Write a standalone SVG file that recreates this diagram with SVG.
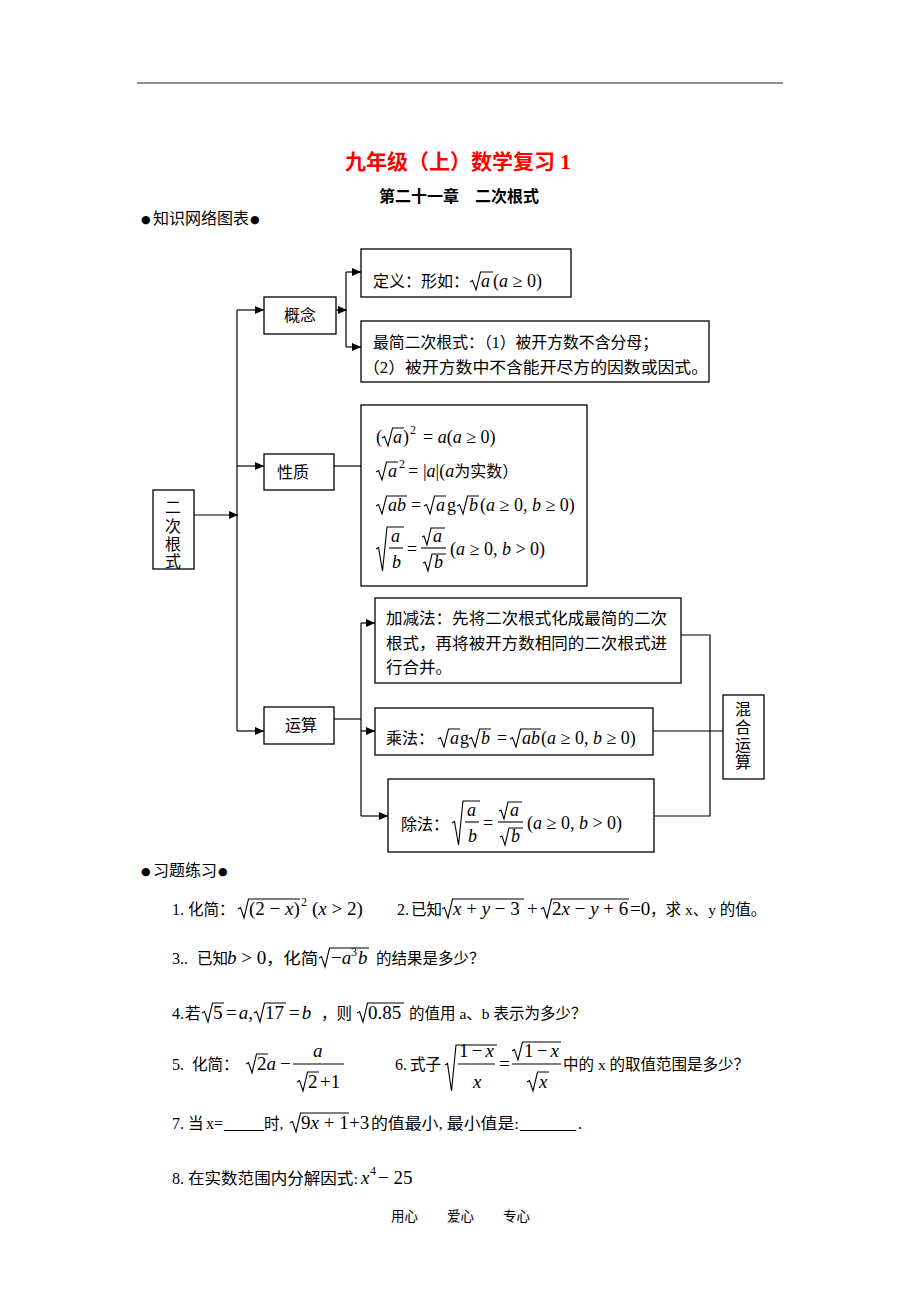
<svg xmlns="http://www.w3.org/2000/svg" width="920" height="1302" viewBox="0 0 920 1302">
<style>
.cn{font-family:"Liberation Serif","Noto Sans CJK SC",serif;font-size:16px;fill:#000}
.ex{font-family:"Liberation Serif","Noto Sans CJK SC",serif;font-size:15.5px;fill:#000}
.m{font-family:"Liberation Serif","Noto Sans CJK SC",serif;font-size:18px;fill:#000}
.mx{font-family:"Liberation Serif","Noto Sans CJK SC",serif;font-size:19px;fill:#000}
.n{font-family:"Liberation Serif",serif;font-size:16px;fill:#000}
.bl{font-family:"DejaVu Sans",sans-serif;font-size:11px;fill:#000}
.i{font-style:italic}
.sup{font-size:12px}
.r{fill:none;stroke:#000;stroke-width:1.1}
.box{fill:#fff;stroke:#000;stroke-width:1.3}
.ln{fill:none;stroke:#000;stroke-width:1.2}
.bar{stroke:#000;stroke-width:1.1}
</style>
<defs>
<marker id="arr" markerWidth="9" markerHeight="8" refX="9" refY="4" orient="auto" markerUnits="userSpaceOnUse"><path d="M0,0 L9,4 L0,8 Z" fill="#000"/></marker>
</defs>
<rect width="920" height="1302" fill="#fff"/>
<line x1="137" y1="83" x2="783" y2="83" stroke="#222" stroke-width="1"/>

<text x="345" y="169" style="font-family:'Liberation Serif','Noto Sans CJK SC',serif;font-size:21px;font-weight:bold;fill:#ff0000">九年级（上）数学复习 1</text>
<text x="379" y="202" style="font-family:'Liberation Serif','Noto Sans CJK SC',serif;font-size:16px;font-weight:bold">第二十一章　二次根式</text>
<text x="141" y="223" class="bl">●</text>
<text x="153" y="224" class="cn">知识网络图表</text>
<text x="250" y="223" class="bl">●</text>

<g id="connectors">
<line class="ln" x1="194" y1="515" x2="238" y2="515" marker-end="url(#arr)"/>
<line class="ln" x1="237" y1="310" x2="237" y2="731"/>
<line class="ln" x1="237" y1="310" x2="264" y2="310" marker-end="url(#arr)"/>
<line class="ln" x1="237" y1="466" x2="264" y2="466" marker-end="url(#arr)"/>
<line class="ln" x1="237" y1="731" x2="264" y2="731" marker-end="url(#arr)"/>
<line class="ln" x1="336" y1="310" x2="347" y2="310" marker-end="url(#arr)"/>
<line class="ln" x1="346" y1="272" x2="346" y2="347"/>
<line class="ln" x1="346" y1="272" x2="361" y2="272" marker-end="url(#arr)"/>
<line class="ln" x1="346" y1="347" x2="361" y2="347" marker-end="url(#arr)"/>
<line class="ln" x1="334" y1="466" x2="361" y2="466"/>
<line class="ln" x1="334" y1="719" x2="361" y2="719"/>
<line class="ln" x1="361" y1="623" x2="361" y2="816"/>
<line class="ln" x1="361" y1="623" x2="375" y2="623" marker-end="url(#arr)"/>
<line class="ln" x1="361" y1="731" x2="375" y2="731" marker-end="url(#arr)"/>
<line class="ln" x1="361" y1="816" x2="388" y2="816" marker-end="url(#arr)"/>
<polyline class="ln" points="681,635 710,635 710,816 654,816"/>
<line class="ln" x1="653" y1="731" x2="723" y2="731"/>
</g>

<g id="node-gainian">
<rect class="box" x="264" y="297" width="72" height="37"/>
<text x="284" y="321" class="cn">概念</text>
</g>

<g id="node-dingyi">
<rect class="box" x="361" y="249" width="210" height="48"/>
<text x="373" y="287" class="cn">定义：形如：</text>
<polyline class="r" points="470,282 472.5,280.5 476,290 480.5,272 493,272"/>
<text x="481" y="287" class="m i">a</text>
<text x="493" y="287" class="m">(<tspan class="i">a</tspan> ≥ 0)</text>
</g>

<g id="node-zuijian">
<rect class="box" x="361" y="321" width="348" height="61"/>
<text x="373" y="348" class="cn" textLength="285" lengthAdjust="spacingAndGlyphs">最简二次根式：（1）被开方数不含分母；</text>
<text x="363" y="373" class="cn" textLength="345" lengthAdjust="spacingAndGlyphs">（2）被开方数中不含能开尽方的因数或因式。</text>
</g>

<g id="node-xingzhi">
<rect class="box" x="264" y="454" width="70" height="36"/>
<text x="277" y="478" class="cn">性质</text>
</g>

<g id="node-properties">
<rect class="box" x="361" y="405" width="226" height="181"/>
<text x="376" y="443" class="m">(</text>
<polyline class="r" points="382,438 384.5,436.5 388,446 392.5,428 404,428"/>
<text x="393" y="443" class="m i">a</text>
<text x="403" y="443" class="m">)</text>
<text x="410" y="434" class="m sup">2</text>
<text x="423" y="443" class="m">= <tspan class="i">a</tspan>(<tspan class="i">a</tspan> ≥ 0)</text>
<polyline class="r" points="376,472 378.5,470.5 382,480 386.5,462 398,462"/>
<text x="388" y="477" class="m i">a</text>
<text x="399" y="468" class="m sup">2</text>
<text x="408" y="477" class="m">=</text>
<text x="423" y="477" class="m">|<tspan class="i">a</tspan>|(<tspan class="i">a</tspan><tspan style="font-size:16px">为实数）</tspan></text>
<polyline class="r" points="376,506 378.5,504.5 382,514 386.5,496 407,496"/>
<text x="388" y="511" class="m i">ab</text>
<text x="411" y="511" class="m">=</text>
<polyline class="r" points="424,506 426.5,504.5 430,514 434.5,496 446,496"/>
<text x="436" y="511" class="m i">a</text>
<text x="447" y="511" class="m">g</text>
<polyline class="r" points="457,506 459.5,504.5 463,514 467.5,496 479,496"/>
<text x="469" y="511" class="m i">b</text>
<text x="480" y="511" class="m">(<tspan class="i">a</tspan> ≥ 0, <tspan class="i">b</tspan> ≥ 0)</text>
<polyline class="r" points="376,549 378.5,547.5 382.5,571 387,527 404,527"/>
<text x="391" y="542" class="m i">a</text>
<line class="bar" x1="389" y1="548" x2="403" y2="548"/>
<text x="392" y="568" class="m i">b</text>
<text x="407" y="555" class="m">=</text>
<polyline class="r" points="422,537 424,536 427,545 431,528 445,528"/>
<text x="433" y="542" class="m i">a</text>
<line class="bar" x1="421" y1="548" x2="446" y2="548"/>
<polyline class="r" points="423,563 425,562 428,571 432,554 446,554"/>
<text x="434" y="568" class="m i">b</text>
<text x="450" y="555" class="m">(<tspan class="i">a</tspan> ≥ 0, <tspan class="i">b</tspan> &gt; 0)</text>
</g>

<g id="node-ercigenshi">
<rect class="box" x="153" y="490" width="41" height="79"/>
<text x="165" y="513" class="cn">二</text>
<text x="165" y="532" class="cn">次</text>
<text x="165" y="550" class="cn">根</text>
<text x="165" y="567" class="cn">式</text>
</g>

<g id="node-yunsuan">
<rect class="box" x="264" y="707" width="70" height="37"/>
<text x="285" y="731" class="cn">运算</text>
</g>

<g id="node-jiajian">
<rect class="box" x="375" y="598" width="306" height="85"/>
<text x="386" y="624" class="cn" textLength="281" lengthAdjust="spacingAndGlyphs">加减法：先将二次根式化成最简的二次</text>
<text x="386" y="649" class="cn" textLength="281" lengthAdjust="spacingAndGlyphs">根式，再将被开方数相同的二次根式进</text>
<text x="386" y="673" class="cn" textLength="66" lengthAdjust="spacingAndGlyphs">行合并。</text>
</g>

<g id="node-chengfa">
<rect class="box" x="375" y="708" width="278" height="47"/>
<text x="386" y="744" class="cn">乘法：</text>
<polyline class="r" points="438,739 440.5,737.5 444,747 448.5,729 460,729"/>
<text x="450" y="744" class="m i">a</text>
<text x="460" y="744" class="m">g</text>
<polyline class="r" points="469,739 471.5,737.5 475,747 479.5,729 491,729"/>
<text x="481" y="744" class="m i">b</text>
<text x="497" y="744" class="m">=</text>
<polyline class="r" points="510,739 512.5,737.5 516,747 520.5,729 541,729"/>
<text x="522" y="744" class="m i">ab</text>
<text x="541" y="744" class="m">(<tspan class="i">a</tspan> ≥ 0, <tspan class="i">b</tspan> ≥ 0)</text>
</g>

<g id="node-chufa">
<rect class="box" x="388" y="779" width="266" height="73"/>
<text x="401" y="830" class="cn">除法：</text>
<polyline class="r" points="452,823 454.5,821.5 458.5,845 463,801 480,801"/>
<text x="467" y="816" class="m i">a</text>
<line class="bar" x1="465" y1="822" x2="479" y2="822"/>
<text x="468" y="842" class="m i">b</text>
<text x="483" y="829" class="m">=</text>
<polyline class="r" points="499,811 501,810 504,819 508,802 522,802"/>
<text x="510" y="816" class="m i">a</text>
<line class="bar" x1="498" y1="822" x2="523" y2="822"/>
<polyline class="r" points="500,837 502,836 505,845 509,828 523,828"/>
<text x="511" y="842" class="m i">b</text>
<text x="527" y="829" class="m">(<tspan class="i">a</tspan> ≥ 0, <tspan class="i">b</tspan> &gt; 0)</text>
</g>

<g id="node-hunhe">
<rect class="box" x="723" y="695" width="41" height="84"/>
<text x="735" y="715" class="cn">混</text>
<text x="735" y="733" class="cn">合</text>
<text x="735" y="751" class="cn">运</text>
<text x="735" y="768" class="cn">算</text>
</g>

<g id="exercises">
<text x="141" y="875" class="bl">●</text>
<text x="153" y="876" class="cn">习题练习</text>
<text x="218" y="875" class="bl">●</text>

<text x="172" y="915" class="n">1.</text>
<text x="188" y="915" class="ex">化简：</text>
<polyline class="r" points="238,909 240.5,907.5 244,918 248.5,899 300,899"/>
<text x="249" y="915" class="mx">(2 − <tspan class="i">x</tspan>)</text>
<text x="301" y="906" class="n sup">2</text>
<text x="312" y="915" class="mx">(<tspan class="i">x</tspan> &gt; 2)</text>
<text x="397" y="915" class="n">2.</text>
<text x="411" y="915" class="ex">已知</text>
<polyline class="r" points="442,909 444.5,907.5 448,918 452.5,899 524,899"/>
<text x="453" y="915" class="mx"><tspan class="i">x</tspan> + <tspan class="i">y</tspan> − 3</text>
<text x="527" y="915" class="mx">+</text>
<polyline class="r" points="541,909 543.5,907.5 547,918 551.5,899 629,899"/>
<text x="552" y="915" class="mx">2<tspan class="i">x</tspan> − <tspan class="i">y</tspan> + 6</text>
<text x="630" y="915" class="mx">=0</text>
<text x="650" y="915" class="ex">，求 x、y 的值。</text>

<text x="172" y="964" class="n">3..</text>
<text x="197" y="964" class="ex">已知</text>
<text x="227" y="964" class="mx"><tspan class="i">b</tspan> &gt; 0</text>
<text x="266" y="964" class="ex" textLength="52" lengthAdjust="spacingAndGlyphs">，化简</text>
<polyline class="r" points="319,958 321.5,956.5 325,967 329.5,948 369,948"/>
<text x="331" y="964" class="mx">−<tspan class="i">a</tspan></text>
<text x="351" y="956" class="n sup">3</text>
<text x="358" y="964" class="mx i">b</text>
<text x="376" y="964" class="ex">的结果是多少？</text>

<text x="172" y="1019" class="n">4.</text>
<text x="185" y="1019" class="ex">若</text>
<polyline class="r" points="202,1013 204.5,1011.5 208,1022 212.5,1003 224,1003"/>
<text x="213" y="1019" class="mx">5</text>
<text x="226" y="1019" class="mx">=<tspan class="i" dx="2">a</tspan>,</text>
<polyline class="r" points="254,1013 256.5,1011.5 260,1022 264.5,1003 286,1003"/>
<text x="265" y="1019" class="mx">17</text>
<text x="289" y="1019" class="mx">=<tspan class="i" dx="2">b</tspan></text>
<text x="321" y="1019" class="ex">，则</text>
<polyline class="r" points="357,1013 359.5,1011.5 363,1022 367.5,1003 404,1003"/>
<text x="368" y="1019" class="mx">0.85</text>
<text x="409" y="1019" class="ex">的值用 a、b 表示为多少？</text>

<text x="172" y="1070" class="n">5.</text>
<text x="192" y="1070" class="ex">化简：</text>
<polyline class="r" points="246,1064 248.5,1062.5 252,1073 256.5,1054 268,1054"/>
<text x="257" y="1070" class="mx">2<tspan class="i">a</tspan></text>
<text x="280" y="1070" class="mx">−</text>
<text x="313" y="1057" class="mx i">a</text>
<line class="bar" x1="293" y1="1064" x2="344" y2="1064"/>
<polyline class="r" points="297,1082 299.5,1080.5 303,1091 307.5,1072 319,1072"/>
<text x="308" y="1088" class="mx">2</text>
<text x="320" y="1088" class="mx">+1</text>

<text x="395" y="1070" class="n">6.</text>
<text x="410" y="1070" class="ex">式子</text>
<polyline class="r" points="445,1065 447.5,1063.5 451.5,1091 456,1045 497,1045"/>
<text x="459" y="1057" class="mx" textLength="35" lengthAdjust="spacing">1 − <tspan class="i">x</tspan></text>
<line class="bar" x1="458" y1="1064" x2="495" y2="1064"/>
<text x="473" y="1088" class="mx i">x</text>
<text x="499" y="1070" class="mx">=</text>
<line class="bar" x1="512" y1="1064" x2="561" y2="1064"/>
<polyline class="r" points="512,1051 514.5,1049.5 518,1060 522.5,1042 561,1042"/>
<text x="524" y="1057" class="mx" textLength="35" lengthAdjust="spacing">1 − <tspan class="i">x</tspan></text>
<polyline class="r" points="527,1082 529.5,1080.5 533,1091 537.5,1072 549,1072"/>
<text x="539" y="1088" class="mx i">x</text>
<text x="563" y="1070" class="ex">中的 x 的取值范围是多少？</text>

<text x="172" y="1129" class="n">7.</text>
<text x="188" y="1129" class="ex">当</text>
<text x="206" y="1129" class="n">x=</text>
<text x="224" y="1129" class="n">_____</text>
<text x="264" y="1129" class="ex">时,</text>
<polyline class="r" points="290,1123 292.5,1121.5 296,1132 300.5,1113 349,1113"/>
<text x="301" y="1129" class="mx">9<tspan class="i">x</tspan> + 1</text>
<text x="349" y="1129" class="mx">+3</text>
<text x="371" y="1129" class="ex" textLength="148" lengthAdjust="spacingAndGlyphs">的值最小, 最小值是:</text>
<text x="520" y="1129" class="n">_______</text>
<text x="578" y="1129" class="n">.</text>

<text x="172" y="1184" class="n">8.</text>
<text x="188" y="1184" class="ex" textLength="170" lengthAdjust="spacingAndGlyphs">在实数范围内分解因式:</text>
<text x="361" y="1184" class="mx i">x</text>
<text x="370" y="1175" class="n sup">4</text>
<text x="378" y="1184" class="mx">− 25</text>
</g>

<text x="391" y="1221" class="cn" style="font-size:13.5px">用心</text>
<text x="447" y="1221" class="cn" style="font-size:13.5px">爱心</text>
<text x="503" y="1221" class="cn" style="font-size:13.5px">专心</text>
</svg>
